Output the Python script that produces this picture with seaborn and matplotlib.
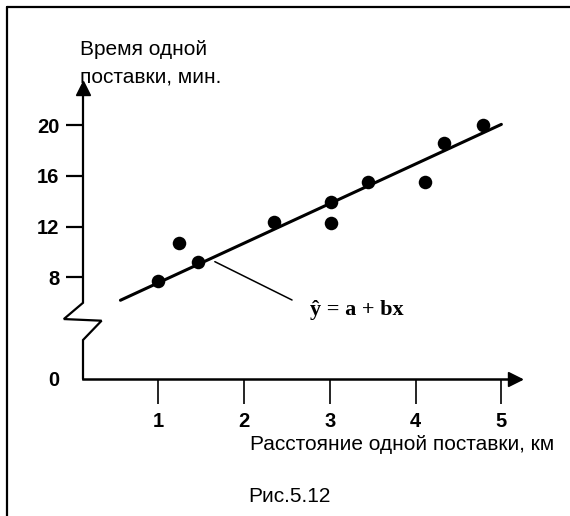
import matplotlib
matplotlib.use("Agg")
import matplotlib.pyplot as plt
from matplotlib.lines import Line2D
import seaborn as sns
import pandas as pd

# ---- data ----
distance_km = [1.0, 1.24, 1.46, 2.35, 3.01, 3.01, 3.45, 4.11, 4.33, 4.78]
time_min = [7.7, 10.7, 9.2, 12.4, 13.9, 12.3, 15.5, 15.5, 18.6, 20.0]
fit_x = [0.56, 5.0]
fit_y = [6.2, 20.05]
x_ticks = [1, 2, 3, 4, 5]
y_ticks = [0, 8, 12, 16, 20]
y_label_lines = ["Время одной", "поставки, мин."]
x_label = "Расстояние одной поставки, км"
caption = "Рис.5.12"
equation = "ŷ = a + bx"

sns.set_theme(style="white")
plt.rcParams["font.family"] = ["Liberation Sans", "DejaVu Sans"]
plt.rcParams["text.color"] = "black"
plt.rcParams["xtick.color"] = "black"
plt.rcParams["ytick.color"] = "black"

W, H = 570, 516
fig = plt.figure(figsize=(W / 100, H / 100), dpi=100)
fig.patch.set_facecolor("white")

# axes placed in pixels: x=0.1235 at px 83, x=5.217 at px 520; y=0 at px 379, y=23.15 at px 85
left, right, bottom, top = 83, 520, 379, 85
ax = fig.add_axes([left / W, 1 - bottom / H, (right - left) / W, (bottom - top) / H])
ax.set_xlim(0.1235, 5.217)
ax.set_ylim(0, 23.15)
ax.set_facecolor("white")

pts = pd.DataFrame({"x": distance_km, "y": time_min})
fit = pd.DataFrame({"x": fit_x, "y": fit_y})

sns.lineplot(data=fit, x="x", y="y", ax=ax, color="black", linewidth=2.2, zorder=3)
sns.scatterplot(data=pts, x="x", y="y", ax=ax, color="black", s=95,
                edgecolor="black", linewidth=0, zorder=4)

# spines
for s in ["top", "right", "left"]:
    ax.spines[s].set_visible(False)
ax.spines["bottom"].set_linewidth(1.8)
ax.spines["bottom"].set_color("black")

x0 = 0.1235
ytop = 23.15
# broken y axis
ax.plot([x0, x0, 0.34, -0.10, x0, x0],
        [0, 3.07, 4.59, 4.72, 6.0, ytop - 0.4],
        color="black", linewidth=1.6, clip_on=False, zorder=5, solid_joinstyle="miter")
# arrow heads
ax.plot([x0], [ytop - 0.25], marker="^", markersize=10, color="black",
        clip_on=False, zorder=6)
ax.plot([5.16], [0], marker=">", markersize=10, color="black",
        clip_on=False, zorder=6)

# ticks
ax.set_xticks(x_ticks)
ax.set_xticklabels([str(v) for v in x_ticks], fontsize=14.5, fontweight="bold", color="black")
ax.set_yticks(y_ticks)
ax.set_yticklabels([str(v) for v in y_ticks], fontsize=14.5, fontweight="bold", color="black")
ax.tick_params(axis="x", bottom=True, direction="out", length=18, width=1.2, pad=6,
               colors="black")
ax.tick_params(axis="y", left=True, direction="out", length=12, width=1.6, pad=5,
               colors="black")
ax.yaxis.get_major_ticks()[0].tick1line.set_visible(False)
ax.set_xlabel("")
ax.set_ylabel("")

# annotation leader and equation
ax.plot([1.66, 2.56], [9.24, 6.22], color="black", linewidth=1.1, zorder=2)
ax.text(2.77, 5.43, equation, fontsize=16, fontweight="bold", color="black",
        family=["Liberation Serif", "DejaVu Serif"], ha="left", va="center")

# labels
fig.text(80 / W, 1 - 55 / H, y_label_lines[0], fontsize=15, ha="left", va="baseline", color="black")
fig.text(80 / W, 1 - 82 / H, y_label_lines[1], fontsize=15, ha="left", va="baseline", color="black")
fig.text(402 / W, 1 - 450 / H, x_label, fontsize=15, ha="center", va="baseline", color="black")
fig.text(289 / W, 1 - 502 / H, caption, fontsize=15, ha="center", va="baseline", color="black")

# outer frame (top and left only)
fig.add_artist(Line2D([7 / W, 7 / W], [0, 1 - 7 / H], transform=fig.transFigure,
                      color="black", linewidth=1.6))
fig.add_artist(Line2D([7 / W, 1], [1 - 7 / H, 1 - 7 / H], transform=fig.transFigure,
                      color="black", linewidth=1.6))

fig.savefig("out.png", dpi=100, facecolor="white")
